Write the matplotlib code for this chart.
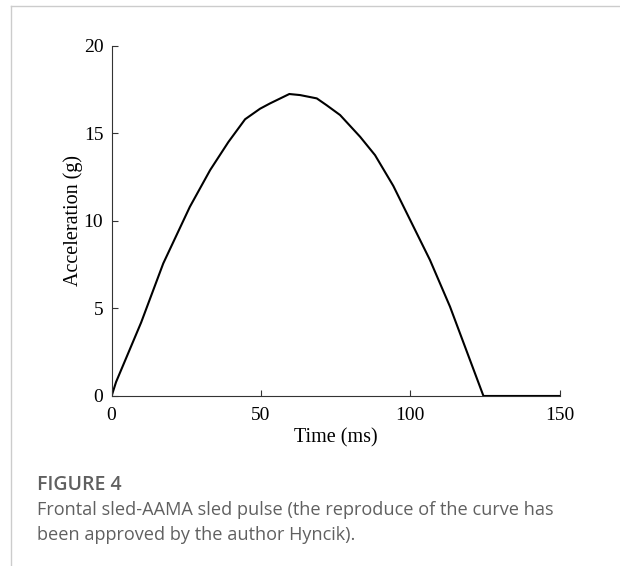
import matplotlib
matplotlib.use('Agg')
import matplotlib.pyplot as plt
from matplotlib.lines import Line2D

# pulse
time_ms = [0, 1.5, 9.9, 17.3, 26.2, 33.0, 39.1, 44.7, 49.7, 53.0, 59.5, 63.1,
           68.7, 72.0, 76.5, 83.2, 88.2, 94.3, 106.6, 113.3, 124.5, 150]
accel_g = [0, 0.8, 4.2, 7.57, 10.8, 12.9, 14.5, 15.8, 16.4, 16.7, 17.24, 17.18,
           16.99, 16.6, 16.04, 14.8, 13.75, 12.0, 7.76, 5.1, 0, 0]

x_ticks = [0, 50, 100, 150]
y_ticks = [0, 5, 10, 15, 20]

fig = plt.figure(figsize=(6.2, 5.66), dpi=100)
ax = fig.add_axes([0.180, 0.3004, 0.7226, 0.6189])

ax.plot(time_ms, accel_g, color='black', lw=1.5, solid_joinstyle='miter')
ax.set_xlim(0, 150)
ax.set_ylim(0, 20)
ax.set_xticks(x_ticks)
ax.set_yticks(y_ticks)

serif = 'Liberation Serif'
ax.set_xlabel('Time (ms)', fontfamily=serif, fontsize=14.5, labelpad=3)
ax.set_ylabel('Acceleration (g)', fontfamily=serif, fontsize=14.5, labelpad=0.5)
for lab in ax.get_xticklabels() + ax.get_yticklabels():
    lab.set_fontfamily(serif)
    lab.set_fontsize(14)

ax.spines['top'].set_visible(False)
ax.spines['right'].set_visible(False)
for s in ['left', 'bottom']:
    ax.spines[s].set_color('#333333')
    ax.spines[s].set_linewidth(0.8)
ax.tick_params(direction='in', length=4, width=0.8, color='#333333')
ax.tick_params(axis='x', pad=8)
ax.tick_params(axis='y', pad=6)

# page border lines
fig.add_artist(Line2D([10.5 / 620, 1], [1 - 5.5 / 566] * 2, color='#cccccc', lw=1))
fig.add_artist(Line2D([10.5 / 620] * 2, [0, 1 - 5.5 / 566], color='#cccccc', lw=1))

# caption
cap = 'Open Sans'
fig.text(37 / 620, 1 - 485 / 566, 'FIGURE 4', fontfamily=cap, fontweight='semibold',
         fontsize=14, color='#606060', va='center')
fig.text(37 / 620, 1 - 510 / 566,
         'Frontal sled-AAMA sled pulse (the reproduce of the curve has',
         fontfamily=cap, fontsize=13.1, color='#606060', va='center')
fig.text(37 / 620, 1 - 535 / 566, 'been approved by the author Hyncik).',
         fontfamily=cap, fontsize=13.1, color='#606060', va='center')

fig.savefig('out.png', dpi=100)
